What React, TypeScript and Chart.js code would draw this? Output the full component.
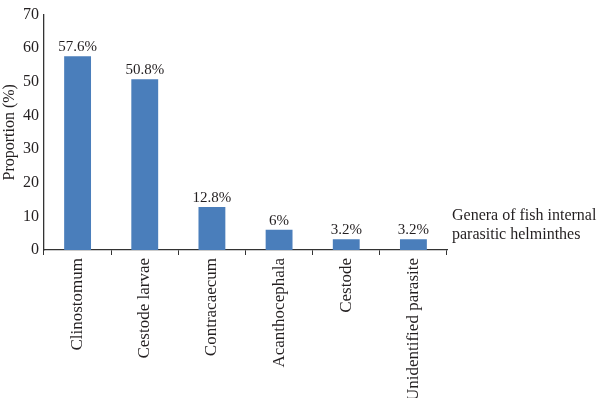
import React, { useEffect, useRef } from "react";
import { Chart, registerables } from "chart.js";

Chart.register(...registerables);

const categories = ["Clinostomum", "Cestode larvae", "Contracaecum", "Acanthocephala", "Cestode", "Unidentified parasite"];
const values = [57.6, 50.8, 12.8, 6, 3.2, 3.2];
const valueLabels = ["57.6%", "50.8%", "12.8%", "6%", "3.2%", "3.2%"];
const yTicks = { min: 0, max: 70, step: 10 };
const sideNote = ["Genera of fish internal", "parasitic helminthes"];

const FONT = "'Liberation Serif', 'Times New Roman', serif";
const TEXT = "#231f20";

export default function App() {
  const ref = useRef<HTMLCanvasElement | null>(null);
  useEffect(() => {
    document.body.style.margin = "0";
    const canvas = ref.current!;
    const labelPlugin = {
      id: "labels",
      afterDatasetsDraw(chart: any) {
        const ctx = chart.ctx;
        const meta = chart.getDatasetMeta(0);
        ctx.save();
        ctx.font = `15px ${FONT}`;
        ctx.fillStyle = TEXT;
        ctx.textAlign = "center";
        ctx.textBaseline = "alphabetic";
        meta.data.forEach((bar: any, i: number) => {
          ctx.fillText(valueLabels[i], bar.x, bar.y - 5);
        });
        const area = chart.chartArea;
        const y = chart.scales.y;
        ctx.textAlign = "left";
        ctx.textBaseline = "middle";
        ctx.font = `16px ${FONT}`;
        ctx.fillText(sideNote[0], area.right + 5, y.getPixelForValue(10.3));
        ctx.fillText(sideNote[1], area.right + 5, y.getPixelForValue(4.4));
        ctx.restore();
      },
    };
    const chart = new Chart(canvas, {
      type: "bar",
      data: {
        labels: categories,
        datasets: [
          {
            data: values,
            backgroundColor: "#4a7ebb",
            categoryPercentage: 0.8,
            barPercentage: 0.5,
          },
        ],
      },
      options: {
        animation: false,
        responsive: false,
        layout: { padding: { top: 9, right: 153, left: 0, bottom: 0 } },
        plugins: { legend: { display: false }, tooltip: { enabled: false } },
        scales: {
          x: {
            grid: {
              display: true,
              drawOnChartArea: false,
              drawTicks: true,
              tickLength: 5,
              color: "#333",
              offset: true,
            },
            border: { display: true, color: "#333", width: 1.3 },
            ticks: {
              maxRotation: 90,
              minRotation: 90,
              autoSkip: false,
              padding: 3,
              color: TEXT,
              font: { family: FONT, size: 17 },
            },
            afterFit(scale: any) {
              scale.height = 148;
            },
          },
          y: {
            min: yTicks.min,
            max: yTicks.max,
            ticks: {
              stepSize: yTicks.step,
              padding: 5,
              color: TEXT,
              font: { family: FONT, size: 16 },
            },
            grid: {
              display: false,
              drawOnChartArea: false,
              drawTicks: false,
            },
            border: { display: true, color: "#333", width: 1.3 },
            title: {
              display: true,
              text: "Proportion (%)",
              color: TEXT,
              font: { family: FONT, size: 16 },
              padding: 0,
            },
            afterFit(scale: any) {
              scale.width = 44;
            },
          },
        },
      },
      plugins: [labelPlugin],
    });
    return () => chart.destroy();
  }, []);
  return <canvas ref={ref} width={600} height={398} style={{ display: "block" }} />;
}
